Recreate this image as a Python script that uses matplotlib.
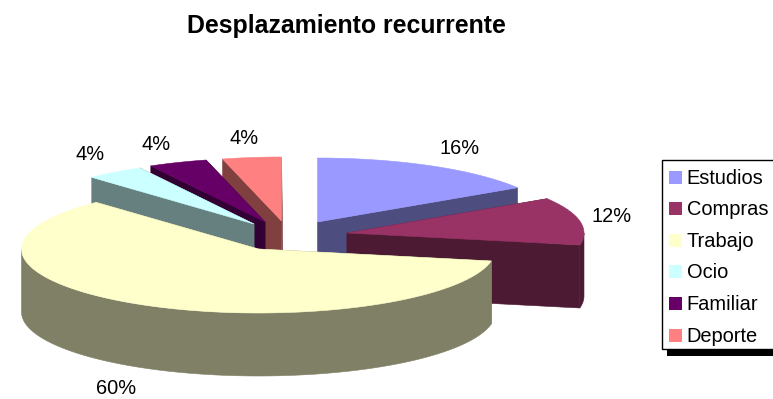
# Se importan los módulos necesarios
import numpy as np
import matplotlib
matplotlib.use("Agg")
import matplotlib.pyplot as plt
from matplotlib.patches import Polygon, Rectangle

plt.rcParams["font.family"] = ["Liberation Sans", "DejaVu Sans"]

# Datos del gráfico
categorias = ["Estudios", "Compras", "Trabajo", "Ocio", "Familiar", "Deporte"]
valores = [16, 12, 60, 4, 4, 4]
titulo = "Desplazamiento recurrente"

# Colores de la cara superior y de las paredes
colores = ["#9999FF", "#993366", "#FFFFCC", "#CCFFFF", "#660066", "#FF8080"]
sombras = ["#4D4D80", "#4D1A33", "#808066", "#668080", "#330033", "#804040"]

# Centro de cada porción (ya separada del resto) y de su etiqueta, en píxeles
centros_x = [317.5, 347, 258.5, 254, 265, 281.5]
centros_y = [222, 233, 249, 224, 222, 221]
etiquetas_x = [460, 612, 116, 90, 156, 244]
etiquetas_y = [148, 217, 388, 154, 144, 139]

# Medidas de la elipse y orden de dibujo (de atrás hacia adelante)
RADIO_X = 237
RADIO_Y = 64
ALTO = 63
ORDEN = [5, 4, 3, 0, 1, 2]


# Función para obtener los puntos del arco de una porción
def arco(cx, cy, ini, fin):
    t = np.radians(np.linspace(ini, fin, 200))
    return np.column_stack((cx + RADIO_X * np.sin(t), cy - RADIO_Y * np.cos(t)))


# Función para dibujar una porción con sus paredes y su cara superior
def dibujar_porcion(ax, cx, cy, ini, fin, color, sombra):
    abajo = np.array([0, ALTO])
    centro = np.array([cx, cy])

    # Paredes de los dos cortes radiales
    for angulo in (ini, fin):
        borde = arco(cx, cy, angulo, angulo)[0]
        pared = [centro, borde, borde + abajo, centro + abajo]
        ax.add_patch(Polygon(pared, facecolor=sombra, edgecolor=sombra, lw=0.4))

    # Pared exterior, solo la parte que mira hacia adelante
    a = max(ini, 90)
    b = min(fin, 270)
    if a < b:
        puntos = arco(cx, cy, a, b)
        pared = np.vstack((puntos, puntos[::-1] + abajo))
        ax.add_patch(Polygon(pared, facecolor=sombra, edgecolor=sombra, lw=0.4))

    # Cara superior
    cara = np.vstack((centro, arco(cx, cy, ini, fin)))
    ax.add_patch(Polygon(cara, facecolor=color, edgecolor=color, lw=0.4))


fig = plt.figure(figsize=(7.73, 3.99), dpi=100)
ax = fig.add_axes([0, 0, 1, 1])
ax.set_xlim(0, 773)
ax.set_ylim(399, 0)
ax.axis("off")

# Se calculan los ángulos a partir de los valores
total = sum(valores)
limites = np.cumsum([0] + valores) / total * 360

for i in ORDEN:
    dibujar_porcion(ax, centros_x[i], centros_y[i], limites[i], limites[i + 1],
                    colores[i], sombras[i])

# Etiquetas de porcentaje
for i, valor in enumerate(valores):
    ax.text(etiquetas_x[i], etiquetas_y[i], f"{round(valor / total * 100)}%",
            fontsize=14.4, ha="center", va="center", color="black")

ax.text(346, 26, titulo, fontsize=17.9, fontweight="bold", ha="center", va="center")

# Leyenda con su sombra (queda cortada por el borde derecho)
ax.add_patch(Rectangle((667, 350), 120, 6, facecolor="black", edgecolor="none"))
ax.add_patch(Rectangle((662, 160), 120, 189, facecolor="white", edgecolor="black", lw=1.0))
for i, nombre in enumerate(categorias):
    y = 177 + 31.6 * i
    ax.add_patch(Rectangle((669, y - 6.5), 13, 13, facecolor=colores[i], edgecolor="none"))
    ax.text(686.5, y + 1, nombre, fontsize=14.4, ha="left", va="center", color="black")

fig.savefig("out.png", dpi=100)
